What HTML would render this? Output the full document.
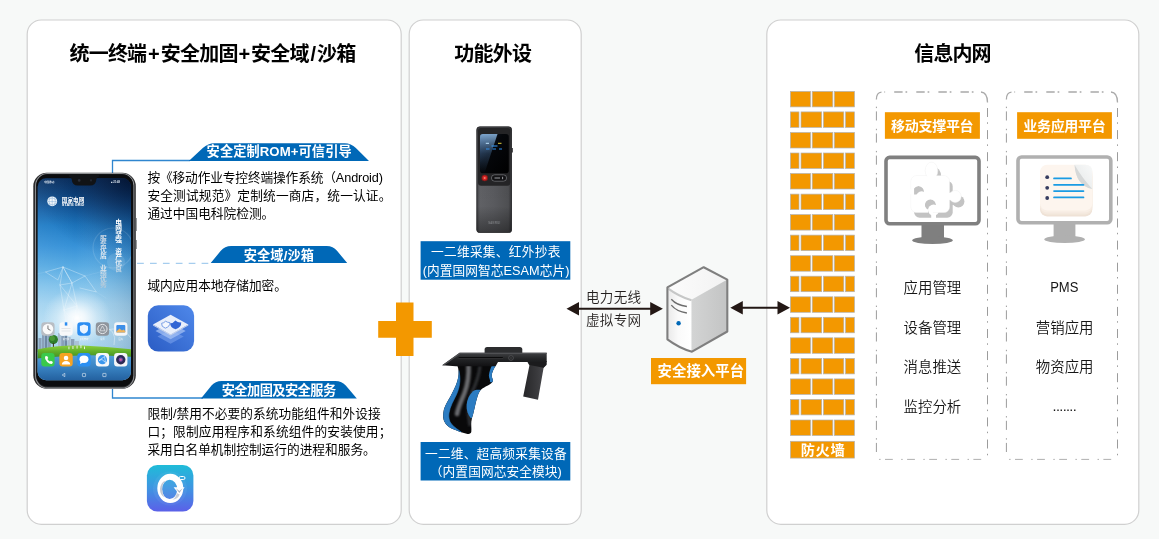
<!DOCTYPE html>
<html lang="zh-CN">
<head>
<meta charset="utf-8">
<title>统一终端+安全加固+安全域/沙箱</title>
<style>
html,body{margin:0;padding:0;background:#f7f9f8;}
body{width:1159px;height:539px;overflow:hidden;position:relative;font-family:"Liberation Sans","Noto Sans CJK SC",sans-serif;}
svg{position:absolute;left:0;top:0;display:block;will-change:transform;}
text{font-family:"Liberation Sans","Noto Sans CJK SC",sans-serif;}
.ttl{font-size:20px;font-weight:700;fill:#000;}
.tag{font-size:13.2px;font-weight:700;fill:#fff;}
.body{font-size:12.7px;font-weight:400;fill:#000;}
.lbl{font-size:12.7px;font-weight:400;fill:#fff;}
.olbl{font-weight:700;fill:#fff;}
.lst{font-size:14.4px;font-weight:350;fill:#161616;}
.net{font-size:13.5px;font-weight:350;fill:#231f1e;}
</style>
</head>
<body>
<svg width="1159" height="539" viewBox="0 0 1159 539">
<defs>
<!--DEFS-->
<linearGradient id="gIc1" x1="1" y1="0" x2="0" y2="1">
<stop offset="0" stop-color="#4f88ea"/><stop offset="1" stop-color="#2a5cc4"/>
</linearGradient>
<linearGradient id="gIc2" x1="0" y1="0" x2="0" y2="1">
<stop offset="0" stop-color="#1fbcd8"/><stop offset=".5" stop-color="#3f95e2"/><stop offset="1" stop-color="#5b60e8"/>
</linearGradient>
<linearGradient id="gScr" x1="0" y1="0" x2="0" y2="1">
<stop offset="0" stop-color="#0a2f5e"/><stop offset=".08" stop-color="#0e4580"/><stop offset=".16" stop-color="#1560a6"/>
<stop offset=".24" stop-color="#1f7cc6"/><stop offset=".34" stop-color="#3792d8"/><stop offset=".44" stop-color="#58abe3"/>
<stop offset=".53" stop-color="#80c2eb"/><stop offset=".62" stop-color="#a2d3f0"/><stop offset=".71" stop-color="#b4dcf3"/>
<stop offset=".82" stop-color="#a8d5f0"/><stop offset="1" stop-color="#8cc4ea"/>
</linearGradient>
<linearGradient id="gScrL" x1="0" y1="0" x2="1" y2="0">
<stop offset="0" stop-color="#fff" stop-opacity=".06"/><stop offset=".4" stop-color="#fff" stop-opacity="0"/><stop offset="1" stop-color="#03204a" stop-opacity=".16"/>
</linearGradient>
<radialGradient id="gScrD" gradientUnits="userSpaceOnUse" cx="136" cy="172" r="105" gradientTransform="translate(136 172) scale(1 .85) translate(-136 -172)">
<stop offset="0" stop-color="#010a22" stop-opacity=".85"/><stop offset=".4" stop-color="#031538" stop-opacity=".5"/><stop offset=".75" stop-color="#04204c" stop-opacity=".15"/><stop offset="1" stop-color="#04204c" stop-opacity="0"/>
</radialGradient>
<radialGradient id="gFlare"><stop offset="0" stop-color="#fff" stop-opacity="1"/><stop offset=".25" stop-color="#fff" stop-opacity=".8"/><stop offset=".6" stop-color="#fff" stop-opacity=".35"/><stop offset="1" stop-color="#fff" stop-opacity="0"/></radialGradient>
<linearGradient id="gWater" x1="0" y1="0" x2="0" y2="1">
<stop offset="0" stop-color="#5aa6dc"/><stop offset=".45" stop-color="#3b86c6"/><stop offset="1" stop-color="#1f5a98"/>
</linearGradient>
<linearGradient id="gDev" x1="0" y1="0" x2="1" y2="0">
<stop offset="0" stop-color="#3e3e41"/><stop offset=".1" stop-color="#606165"/><stop offset=".5" stop-color="#595a5e"/><stop offset=".9" stop-color="#4e4f52"/><stop offset="1" stop-color="#303033"/>
</linearGradient>
<linearGradient id="gDevV" x1="0" y1="0" x2="0" y2="1">
<stop offset="0" stop-color="#000" stop-opacity=".25"/><stop offset=".08" stop-color="#000" stop-opacity=".05"/><stop offset=".75" stop-color="#000" stop-opacity="0"/><stop offset="1" stop-color="#000" stop-opacity=".38"/>
</linearGradient>
<linearGradient id="gDevScr" x1="0" y1="0" x2="1" y2="1">
<stop offset="0" stop-color="#1b2a40"/><stop offset=".4" stop-color="#05070b"/><stop offset="1" stop-color="#000"/>
</linearGradient>
<linearGradient id="gDevGl" x1="0" y1="0" x2="0" y2="1">
<stop offset="0" stop-color="#9fd0ff" stop-opacity=".75"/><stop offset=".5" stop-color="#5a8ec8" stop-opacity=".3"/><stop offset="1" stop-color="#5a8ec8" stop-opacity="0"/>
</linearGradient>
<linearGradient id="gFlap" x1="0" y1="0" x2="1" y2="0">
<stop offset="0" stop-color="#262628"/><stop offset=".6" stop-color="#3a3a3d"/><stop offset="1" stop-color="#4c4c50"/>
</linearGradient>
<linearGradient id="gGrip" gradientUnits="userSpaceOnUse" x1="452" y1="395" x2="484" y2="403">
<stop offset="0" stop-color="#1c1c1e"/><stop offset=".18" stop-color="#4a4b4e"/><stop offset=".34" stop-color="#0c0c0d"/><stop offset=".6" stop-color="#050505"/><stop offset=".85" stop-color="#1f2022"/><stop offset="1" stop-color="#0c0c0d"/>
</linearGradient>
<linearGradient id="gBar" x1="0" y1="0" x2="0" y2="1">
<stop offset="0" stop-color="#3f4043"/><stop offset=".45" stop-color="#242527"/><stop offset="1" stop-color="#111113"/>
</linearGradient>
<linearGradient id="gSrvT" x1="0" y1="0" x2="1" y2="0"><stop offset="0" stop-color="#fcfcfc"/><stop offset="1" stop-color="#f2f2f2"/></linearGradient>
<linearGradient id="gSrvL" x1="0" y1="0" x2="1" y2="0"><stop offset="0" stop-color="#e9e9e9"/><stop offset=".45" stop-color="#fafafa"/><stop offset="1" stop-color="#fff"/></linearGradient>
<linearGradient id="gSrvR" x1="0" y1="0" x2="1" y2="0"><stop offset="0" stop-color="#d3d4d4"/><stop offset="1" stop-color="#c3c4c4"/></linearGradient>
<linearGradient id="gCurl" x1="0" y1="1" x2="1" y2="0"><stop offset="0" stop-color="#d9dbdb"/><stop offset=".5" stop-color="#eef0f0"/><stop offset="1" stop-color="#f8f9f9"/></linearGradient>
<linearGradient id="gSlog" gradientUnits="userSpaceOnUse" x1="0" y1="218" x2="0" y2="272"><stop offset="0" stop-color="#fff"/><stop offset=".7" stop-color="#fff"/><stop offset="1" stop-color="#d3dde6" stop-opacity=".75"/></linearGradient>
<linearGradient id="gSlog2" gradientUnits="userSpaceOnUse" x1="0" y1="234" x2="0" y2="290"><stop offset="0" stop-color="#c6d3e0"/><stop offset=".5" stop-color="#e6eef5"/><stop offset="1" stop-color="#b8c6d2" stop-opacity=".8"/></linearGradient>
<linearGradient id="gGrass" x1="0" y1="0" x2="0" y2="1"><stop offset="0" stop-color="#8ccf3c"/><stop offset=".45" stop-color="#62b02a"/><stop offset="1" stop-color="#3f8a22"/></linearGradient>
<filter id="fBlur" x="-50%" y="-20%" width="200%" height="140%"><feGaussianBlur stdDeviation="1.300"/></filter>
<filter id="fBlur2" x="-10%" y="-10%" width="120%" height="120%"><feGaussianBlur stdDeviation=".350"/></filter>

</defs>

<!-- panels -->
<g fill="#fff" stroke="#d0d0d0" stroke-width="1.200">
<rect x="27.2" y="20" width="374" height="504.300" rx="14" ry="14"/>
<rect x="409.200" y="20" width="172" height="504.300" rx="14" ry="14"/>
<rect x="766.800" y="20" width="372" height="504.300" rx="14" ry="14"/>
</g>

<!-- titles -->
<text class="ttl" y="60.600" x="69.500 88.700 107.900 127.100 148 160.800 180 199.200 218.400 238.400 250.900 270.200 289.500 310.400 316.900 336.200">统一终端+安全加固+安全域/沙箱</text>
<text class="ttl" y="60.600" x="454.300 473.500 492.700 511.900">功能外设</text>
<text class="ttl" y="60.600" x="914.300 933.400 952.500 971.600">信息内网</text>

<!--PANEL1-->
<!-- connector lines -->
<g fill="none" stroke="#2f86cf" stroke-width="1.300" stroke-linejoin="miter">
<path d="M112.500 173 V160.500 H190"/>
<path d="M112.500 389 V398 H203"/>
</g>
<path d="M137.100 263.400 H212" fill="none" stroke="#a6cdee" stroke-width="1.200" stroke-dasharray="6.700 6.200"/>

<!-- blue tags -->
<g fill="#0068b7">
<path d="M188.8 161.1 L202.8 148.0 Q208.0 143.2 214.5 143.2 H344.6 Q351.1 143.2 355.9 148.0 L369.0 161.1 Z"/>
<path d="M210.700 263 L220.800 250.800 Q224.700 246.100 231.200 246.100 H326.700 Q333.200 246.100 337 250.800 L347.200 263 Z"/>
<path d="M201.0 398.6 L211.3 385.7 Q215.2 380.9 221.7 380.9 H335.4 Q341.9 380.9 346.0 385.7 L356.8 398.6 Z"/>
</g>
<text class="tag" x="206.600" y="155.500" textLength="145" lengthAdjust="spacing">安全定制ROM+可信引导</text>
<text class="tag" x="243.700" y="259.500" textLength="70.300" lengthAdjust="spacing">安全域/沙箱</text>
<text class="tag" x="221.700" y="395.400" textLength="114.400" lengthAdjust="spacing">安全加固及安全服务</text>

<!-- body text -->
<text class="body" x="147.400" y="181.900" textLength="235.6" lengthAdjust="spacing">按《移动作业专控终端操作系统（Android)</text>
<text class="body" x="147.400" y="199.800" textLength="244" lengthAdjust="spacing">安全测试规范》定制统一商店，统一认证。</text>
<text class="body" x="147.400" y="217.800">通过中国电科院检测。</text>
<text class="body" x="147.400" y="290">域内应用本地存储加密。</text>
<text class="body" x="147.400" y="417.600" textLength="233.2" lengthAdjust="spacing">限制/禁用不必要的系统功能组件和外设接</text>
<text class="body" x="147.400" y="435.700" textLength="244" lengthAdjust="spacing">口；限制应用程序和系统组件的安装使用；</text>
<text class="body" x="147.400" y="453.700">采用白名单机制控制运行的进程和服务。</text>

<!-- sandbox icon -->
<g>
<rect x="147.8" y="305.3" width="46.3" height="46.3" rx="10.5" fill="url(#gIc1)"/>
<path d="M170.6 339 L158.5 332.3 L170.6 343.7 L182.7 332.3 Z" fill="#fff" fill-opacity="0"/>
<path d="M157.5 336.5 L170.6 329.5 L183.7 336.5 L170.6 343.8 Z" fill="#7fa6ee" fill-opacity=".55"/>
<path d="M155.5 331 L170.6 322.8 L185.7 331 L170.6 339.3 Z" fill="#a9c4f5" fill-opacity=".7"/>
<path d="M153 324.6 L170.6 314.8 L188.3 324.6 L170.6 334.5 Z" fill="#e9effb"/>
<path d="M153 324.6 L170.6 334.5 L188.3 324.6 L188.3 325.6 L170.6 335.6 L153 325.6 Z" fill="#c9d3ea"/>
<path d="M161.600 323.300 Q163.800 323.100 165.600 321.200 Q167.600 322.700 169.900 322.500 Q170.300 326.400 165.300 328.200 Q161 326.700 161.600 323.300 Z" fill="#f4f7fd" stroke="#7a9fe6" stroke-width="1"/>
<path d="M170.200 323.200 Q173 323.300 175.400 320.400 Q178.200 322.900 181.200 322.300 Q181.600 327.300 175.600 329.200 Q170 327.600 170.200 323.200 Z" fill="#3366d4"/>
</g>

<!-- reinforce icon -->
<g>
<rect x="146.9" y="465" width="46.5" height="46.5" rx="10.5" fill="url(#gIc2)"/>
<circle cx="170" cy="488.500" r="17" fill="#fff" fill-opacity=".05"/>
<path d="M157.300 488.350 A13 14.650 0 1 0 183.300 488.350 A13 14.650 0 1 0 157.300 488.350 Z M162.100 489.350 A7.550 9.650 0 1 1 177.200 489.350 A7.550 9.650 0 1 1 162.100 489.350 Z" fill="#fff" fill-rule="evenodd"/>
<path d="M162.100 489.350 A7.550 9.650 0 0 1 166 480.700 Q160.800 481.500 160 489 Q160 495.500 164.600 497.300 Q162.100 494 162.100 489.350 Z" fill="#c2c8d4"/>
<path d="M176.800 493 Q176 497.500 172.500 499.600 Q177.500 499.500 179.800 494.500 Z" fill="#c2c8d4" fill-opacity=".9"/>
<path d="M173.600 487.300 H184.600 L179.400 494.600 Z" fill="#fff"/>
<path d="M175.800 488.200 L179.400 493 L182.600 488.200 L179.400 491 Z" fill="#8f97a8" fill-opacity=".75"/>
<rect x="179" y="476.500" width="6" height="3" rx="1.500" fill="none" stroke="#fff" stroke-width="1"/>
</g>
<!-- phone -->
<g>
<rect x="33.300" y="172.800" width="102.500" height="216" rx="13.500" fill="#2b2c2e"/>
<rect x="35.600" y="173.500" width="98.200" height="214.600" rx="12" fill="none" stroke="#8e9093" stroke-width="1.100"/>
<rect x="36.300" y="174.200" width="96.900" height="212.400" rx="11.300" fill="#0b0c0e"/>
<clipPath id="scr"><rect x="37.600" y="178.200" width="93.400" height="202" rx="8.500"/></clipPath>
<g clip-path="url(#scr)">
<rect x="37" y="176" width="96" height="206" fill="url(#gScr)"/>
<rect x="37" y="176" width="96" height="206" fill="url(#gScrL)"/>
<rect x="37" y="176" width="96" height="206" fill="url(#gScrD)"/>
<!-- lens flare -->
<ellipse cx="77" cy="318" rx="34" ry="30" fill="url(#gFlare)"/>
<circle cx="113" cy="248" r="20" fill="none" stroke="#fff" stroke-opacity=".12" stroke-width="1.200"/>
<circle cx="116" cy="262" r="9" fill="#fff" fill-opacity=".1"/>
<!-- tower -->
<g fill="none" stroke="#f2f9fd" stroke-linecap="round" filter="url(#fBlur2)">
<g stroke-opacity=".34" stroke-width="1" stroke-dasharray=".7 .7">
<path d="M63 267 L45.500 272 L58 280 Z M63 267 L85 276 L72 283 Z M85 276 L96.400 292 L80 288"/>
<path d="M63 267 L60 285 L64 310 L69 336 M63 267 L72 283 L77 306 L85 336 M60 285 L72 283 M64 310 L77 306 M60 285 L77 306 M72 283 L64 310 M64 310 L85 336 M77 306 L69 336"/>
</g>
<path d="M45.500 272 L37 274 M96.400 292 L106 298 M85 276 L100 272" stroke-opacity=".18" stroke-width=".5"/>
</g>
<!-- skyline -->
<g fill="#8aa0b8">
<rect x="38.500" y="338" width="3" height="11"/><rect x="42" y="333" width="2.600" height="16"/><rect x="45" y="329.500" width="2.400" height="20" fill="#6f88a4"/><rect x="47.800" y="335" width="3" height="14"/>
<rect x="58" y="333" width="2.800" height="16" fill="#a9bccf"/><rect x="61.200" y="336" width="3" height="13"/><rect x="64.600" y="331.500" width="2.600" height="17" fill="#6f88a4"/>
<rect x="67.600" y="337" width="3" height="11" fill="#a9bccf"/><rect x="71" y="339" width="3.400" height="9"/><rect x="75" y="341" width="4" height="7" fill="#a9bccf" fill-opacity=".8"/>
</g>
<circle cx="53.400" cy="339.600" r="4.600" fill="#2f7d2a"/><circle cx="52.300" cy="338.300" r="2.600" fill="#4c9a36"/><rect x="52.900" y="343" width="1" height="5.500" fill="#3d3220"/>
<!-- grass + water -->
<rect x="37" y="352" width="96" height="31" fill="url(#gWater)"/>
<path d="M37 349.500 Q58 344.800 82 345.600 Q108 346.600 133 349.500 V357 Q100 354.500 80 355.500 Q55 356.500 37 358.500 Z" fill="url(#gGrass)"/>
<g fill="#f4f6f8"><rect x="68.500" y="346.500" width=".9" height="2.800"/><rect x="72.500" y="346" width=".9" height="3"/><rect x="76.600" y="345.600" width=".9" height="3"/><rect x="80.500" y="345" width=".9" height="3.200"/><rect x="84" y="346.500" width=".9" height="2.600"/></g>
<path d="M100 326 Q118 328 114 345 M104 330 Q124 326 131 338" fill="none" stroke="#fff" stroke-opacity=".55" stroke-width=".7"/>
<!-- app icons row 1 -->
<g>
<rect x="41.300" y="322.300" width="13.300" height="13.400" rx="3.200" fill="#b9bec4"/><circle cx="47.950" cy="329" r="5.300" fill="#fafafa"/><path d="M47.950 325.500 V329 L50.500 330.300" stroke="#444" stroke-width=".7" fill="none"/>
<rect x="59.400" y="322.300" width="13.300" height="13.400" rx="3.200" fill="#f7f8f9"/><rect x="64.800" y="322.300" width="2.500" height="3.300" fill="#2b8cf0"/><path d="M61.500 328.500 H70.500 M61.500 331 H70.500" stroke="#d5d8dc" stroke-width=".6"/>
<rect x="77.300" y="322.300" width="13.300" height="13.400" rx="3.200" fill="#2b8df2"/><path d="M83.950 324.600 L88 326 V329.500 Q88 332.300 83.950 333.800 Q79.900 332.300 79.900 329.500 V326 Z" fill="#eaf4ff"/>
<rect x="95.800" y="322.300" width="13.300" height="13.400" rx="3.200" fill="#8e949c"/><circle cx="102.450" cy="329" r="4.600" fill="none" stroke="#e8eaed" stroke-width="1"/><path d="M102.450 326 L105 330.800 H99.900 Z" fill="none" stroke="#e8eaed" stroke-width=".7"/>
<rect x="114.100" y="322.300" width="13.300" height="13.400" rx="3.200" fill="#f4f6f8"/><rect x="116.300" y="325" width="9" height="7.500" rx="1" fill="#3d8fe8"/><path d="M116.300 331.500 L119.500 328.500 L122 330.500 L123.500 329.500 L125.300 331 V332.500 H116.300 Z" fill="#f0b45a"/>
</g>
<g font-size="2.200" fill="#fff" fill-opacity=".85" text-anchor="middle">
<text x="66" y="340">备忘录</text><text x="84" y="340">手机管家</text><text x="102.500" y="340">设置</text><text x="120.700" y="340">图库</text>
</g>
<!-- app icons row 2 -->
<g>
<rect x="41.300" y="353" width="13.300" height="13.400" rx="3.200" fill="#3ac94b"/><path d="M45 356.500 q-.6 3 2.200 5.500 q2.600 2.500 5 1.800 l.7 -1.700 l-2 -1.300 l-1 .8 q-1.600 -.8 -2.500 -2.600 l.9 -.9 l-1.200 -2.200 z" fill="#fff"/>
<rect x="59.400" y="353" width="13.300" height="13.400" rx="3.200" fill="#f6a321"/><circle cx="66.050" cy="358" r="2.300" fill="#fff"/><path d="M61.800 364.500 q.4 -3.600 4.250 -3.600 q3.850 0 4.250 3.600 z" fill="#fff"/>
<rect x="77.300" y="353" width="13.300" height="13.400" rx="3.200" fill="#2a8ff2"/><ellipse cx="83.950" cy="359.300" rx="4.500" ry="3.700" fill="#fff"/><path d="M80.500 361.500 L80 364 L83 362.500 Z" fill="#fff"/>
<rect x="95.800" y="353" width="13.300" height="13.400" rx="3.200" fill="#f6f8fa"/><circle cx="102.450" cy="359.700" r="4.600" fill="#3a97ee"/><path d="M99 360.500 L104.500 356.500 L105.500 362.500 L102 359.500 Z" fill="none" stroke="#fff" stroke-width=".6"/>
<rect x="114.100" y="353" width="13.300" height="13.400" rx="3.200" fill="#f4f5f8"/><circle cx="120.750" cy="359.700" r="4.700" fill="#2c2a55"/><circle cx="120.750" cy="359.700" r="2.100" fill="#7a4fb0"/><circle cx="120.750" cy="359.700" r="1" fill="#e8608a"/>
</g>
<!-- nav bar -->
<g fill="none" stroke="#e6eef6" stroke-width=".6">
<path d="M64.800 373.300 L62.200 375 L64.800 376.700 Z"/><rect x="82.400" y="373.400" width="3.200" height="3.200" rx=".5"/><rect x="102.800" y="373.400" width="3.200" height="3.200" rx=".2"/>
</g>
<!-- status bar -->
<g font-size="2.600" fill="#dfe8f2" font-weight="700"><text x="44" y="183">中国移动</text><text x="111" y="183">■ 21:48</text></g>
<!-- logo -->
<circle cx="52.200" cy="201.300" r="4.900" fill="#f4f8fb"/>
<path d="M48.300 199.500 q3.900 -3 7.800 0 M47.600 201.600 h9.200 M48.300 203.500 q3.900 2.600 7.800 0 M52.200 196.600 v9.400 M50 197.300 q-2 4 0 8 M54.400 197.300 q2 4 0 8" fill="none" stroke="#6a9fd0" stroke-width=".4"/>
<text x="61.800" y="201.700" font-size="5.800" font-weight="700" fill="#fff" textLength="22.500" lengthAdjust="spacingAndGlyphs">国家电网</text>
<text x="61.800" y="205.800" font-size="3.400" font-weight="700" fill="#fff" textLength="22.500" lengthAdjust="spacingAndGlyphs">STATE GRID</text>
<!-- slogans -->
<g font-size="6px" font-weight="700" fill="#fff" text-anchor="middle">
<g transform="translate(118.700 0) scale(1.130 1) translate(-118.700 0)"><text x="118.7 118.7 118.7 118.7 118.7 118.7 118.7 118.7 118.7" y="224.4 230.2 236.0 241.8 247.6 253.5 259.3 265.1 270.9" fill="url(#gSlog)">电网坚强　资产优良</text></g>
<g transform="translate(103.400 0) scale(1.130 1) translate(-103.400 0)"><text x="103.4 103.4 103.4 103.4 103.4 103.4 103.4 103.4 103.4" y="240.5 246.3 252.2 258.0 263.9 269.7 275.5 281.4 287.2" fill="url(#gSlog2)">服务优质　业绩优秀</text></g>
</g>
</g>
<!-- notch -->
<path d="M69 175 H99 V176.800 Q96.500 177 96.300 179.500 Q96 185.600 90 185.600 H78 Q72 185.600 71.800 179.500 Q71.500 177 69 176.800 Z" fill="#111316"/>
<circle cx="79.200" cy="180.400" r="1.300" fill="#2a2f3a"/><circle cx="91" cy="180.400" r="1.100" fill="#242832"/>
<!-- side buttons -->
<rect x="135.600" y="218" width="1" height="13" fill="#55585c"/><rect x="135.600" y="240" width="1" height="9" fill="#55585c"/>
</g>

<!--PANEL2-->
<!-- plus sign -->
<path d="M396 302.400 H413.500 V321 H431.800 V337.800 H413.500 V356 H396 V337.800 H378.200 V321 H396 Z" fill="#f39800"/>

<!-- handheld reader -->
<g>
<rect x="476.500" y="126.600" width="35.400" height="106.200" rx="3.400" fill="url(#gDev)"/>
<rect x="476.500" y="126.600" width="35.400" height="106.200" rx="3.400" fill="url(#gDevV)"/>
<rect x="476.900" y="127" width="34.600" height="105.400" rx="3.100" fill="none" stroke="#2f2f31" stroke-width=".8"/>
<path d="M480.700 128 H507.700 Q510.400 128 510.400 130.700 V182.500 Q510.400 185.800 507.200 185.800 H481.200 Q478 185.800 478 182.500 V130.700 Q478 128 480.700 128 Z" fill="#242426"/>
<rect x="480" y="134" width="28.800" height="39.200" rx="2.800" fill="url(#gDevScr)"/>
<path d="M480 136.800 Q480 134 482.800 134 H497.500 L484.500 173.200 H482.800 Q480 173.200 480 170.400 Z" fill="url(#gDevGl)"/>
<g stroke-width="1" fill="none"><path d="M485.800 143.300 H489" stroke="#bfe4ff"/><path d="M498 143.300 H501.500" stroke="#e6d23c"/><path d="M491.500 146 H497.500" stroke="#3aa0ff"/><path d="M486 149 H489.500 M492.500 149 H496 M499 149 H502" stroke="#2f90f0"/></g>
<circle cx="484.700" cy="178" r="3.300" fill="#7d1a1a"/><circle cx="484.700" cy="178" r="2.400" fill="#d42222"/><circle cx="484.700" cy="178" r="1" fill="#f08070"/>
<rect x="491.400" y="174.800" width="15.200" height="6.400" rx="3.200" fill="#121214" stroke="#8a8c90" stroke-width=".6"/>
<path d="M494.500 178 H500 M502.600 176.800 V179.200" stroke="#d5d8dc" stroke-width=".7"/>
<rect x="511.700" y="148" width="1.100" height="4.500" fill="#2a2a2c"/>
<text x="494.200" y="224.300" font-size="2.600" fill="#7e8084" text-anchor="middle" font-weight="700" textLength="12" lengthAdjust="spacing">SANRUI</text>
</g>

<rect x="420.600" y="241.200" width="149.700" height="38.500" fill="#0068b7"/>
<text class="lbl" x="431" y="256.300" textLength="129.400" lengthAdjust="spacing">一二维采集、红外抄表</text>
<text class="lbl" x="422.800" y="274.500" textLength="146.600" lengthAdjust="spacing">(内置国网智芯ESAM芯片)</text>

<!-- trigger handle reader -->
<g>
<path d="M484.600 353 V349.500 Q484.600 347 487.100 347 H519.800 Q522.300 347 522.300 349.500 V353 Z" fill="#2c2d2f"/>
<path d="M527 361 H546.500 V365 L543.600 367.800 L538 399.700 L523.200 396.600 L529.400 365.500 Z" fill="url(#gFlap)"/>
<path d="M527 361 H546.500 V364.500 L543.600 367.800 L529.700 365 Z" fill="#1b1b1d"/>
<!-- handle -->
<path id="hsil" d="M457.300 365.500 C458.800 369 458.900 373 458.300 377 C457.300 383 454.500 388.500 451.800 393.800 C448.500 400.300 444.300 405.500 443.400 412.400 C442.900 416 443.200 419 444.300 421.600 C446 425.500 449 427.500 452.700 429 C457 430.800 462 432.800 466.600 433.700 C469.200 434.200 471 433.800 471.300 431.800 C471.700 428.500 470.900 425 471.300 421.600 C471.600 419 472.400 416.600 473.100 414.200 C474.800 408 475.800 401.500 477.700 395.700 C478.500 393.200 479.600 390.800 481.500 389.200 C484.800 386.400 490 385.200 492.600 381.700 C493.800 380 491.500 377.800 491.700 375.300 C492 372 493.800 369 495.400 366 Z" fill="#09090a"/>
<clipPath id="hclip"><use href="#hsil"/></clipPath>
<g clip-path="url(#hclip)">
<path d="M468.500 364 C469 374 468 384 464.500 393 C462 399.500 458.500 406 457 414" fill="none" stroke="#7b7c80" stroke-width="4.600" stroke-linecap="round" filter="url(#fBlur)" stroke-opacity=".85"/>
<path d="M480 366 C479 376 476 384 472 392 C468.500 400 467.500 412 470 426" fill="none" stroke="#3a3b3e" stroke-width="3" filter="url(#fBlur)" stroke-opacity=".8"/>
<path d="M458.800 370.500 C458.900 377 455 387 451.800 393.800 C448.500 400.300 444.300 405.500 443.400 412.400 C442.900 416 443.200 419 444.300 421.600 C446 425.500 449 427.500 452.700 429 C455.500 430.200 458.500 431.300 461.500 432.300 C458 429.500 454.500 427.500 451.700 424.300 C449 421.300 448.400 417 449 413 C450 406.500 453.700 400.500 456.500 394.500 C459.200 388.500 461.300 380 458.800 370.500 Z" fill="#2b7cc2" stroke="#2b7cc2" stroke-width=".6"/>
<path d="M473 391.300 C469.400 394.500 467 399.500 466.600 405 C466.300 410 467.800 414.500 471 418.500 L474 416 L480 398 L481 390 C478 389.600 475 389.800 473 391.300 Z" fill="#2b7cc2"/>
<path d="M492.200 365 C490.400 368.500 489.200 372 488.900 375.300 C488.700 377.800 490.800 380 489.800 381.900 L495 383 L497 365 Z" fill="#2b7cc2"/>
</g>
<!-- top bar -->
<path d="M442.200 365.200 L459.600 352.800 H546.700 V362 H498 L495.600 366.200 H456 Z" fill="url(#gBar)"/>
<path d="M442.200 365.200 L459.600 352.800 H546.700 V354 H460.200 L444.500 365.200 Z" fill="#505154"/>
<rect x="458.500" y="357" width="44.500" height="1.700" rx=".85" fill="#0b0b0c"/>
<rect x="458.500" y="358.400" width="44.500" height=".5" fill="#4a4b4d"/>
<circle cx="511" cy="358" r="2.400" fill="#252527" stroke="#606164" stroke-width=".6"/>
<circle cx="511" cy="358" r=".9" fill="#3b3c3e"/>
</g>

<rect x="420.600" y="442" width="149.700" height="38.500" fill="#0068b7"/>
<text class="lbl" x="425" y="458.100" textLength="141.600" lengthAdjust="spacing">一二维、超高频采集设备</text>
<text class="lbl" x="429.800" y="475.700" textLength="132" lengthAdjust="spacing">（内置国网芯安全模块)</text>

<!--MIDDLE-->
<!-- arrows -->
<g fill="#231815" stroke="none">
<path d="M566.500 308.800 L579 302.100 V307.800 H650.200 V302.100 L662.900 308.800 L650.200 315.500 V309.800 H579 V315.500 Z"/>
<path d="M730.300 307.800 L742.800 301.100 V306.800 H777.500 V301.100 L790 307.800 L777.500 314.500 V308.800 H742.800 V314.500 Z"/>
</g>
<text class="net" x="586" y="302" textLength="55" lengthAdjust="spacing">电力无线</text>
<text class="net" x="586" y="325" textLength="55" lengthAdjust="spacing">虚拟专网</text>

<!-- server -->
<g stroke-linejoin="round">
<path d="M667.400 287.400 L703.700 267.200 L727.300 279.600 L691.500 299.800 Z" fill="url(#gSrvT)"/>
<path d="M667.400 287.400 Q678 293.500 691.500 299.800 V351.500 Q679 347.500 667.400 339.300 Z" fill="url(#gSrvL)"/>
<path d="M691.500 299.800 L727.300 279.600 V331.500 L691.500 351.500 Z" fill="url(#gSrvR)"/>
<path d="M668.300 288.600 Q678 296 691.500 300.300" fill="none" stroke="#c6c7c7" stroke-width="2"/>
<path d="M667.400 287.400 L703.700 267.200 L727.300 279.600 V331.500 L692 351.700 Q679 348 667.400 339.300 Z" fill="none" stroke="#7f7f7f" stroke-width="2.100"/>
<path d="M671.300 299.300 Q676.500 305.300 686.900 306.500 M671.300 305.200 Q676.500 311.600 686.900 313" fill="none" stroke="#6c6c6c" stroke-width="1.300"/>
<circle cx="678.600" cy="323.300" r="2.200" fill="#0068b7"/>
</g>
<rect x="651" y="358" width="95.100" height="26.200" fill="#f39800"/>
<text class="olbl" x="657.500" y="376.200" font-size="14.400" textLength="86.600" lengthAdjust="spacing">安全接入平台</text>

<!--PANEL3-->
<!-- firewall -->
<g fill="#f39800" stroke="#b3b3b3" stroke-width=".7">
<rect x="790.4" y="91.4" width="20.2" height="15.5"/>
<rect x="812.2" y="91.4" width="20.6" height="15.5"/>
<rect x="834.3" y="91.4" width="20.2" height="15.5"/>
<rect x="790.4" y="111.9" width="8.6" height="15.5"/>
<rect x="801.0" y="111.9" width="20.7" height="15.5"/>
<rect x="823.4" y="111.9" width="20.4" height="15.5"/>
<rect x="845.5" y="111.9" width="8.9" height="15.5"/>
<rect x="790.4" y="132.5" width="20.2" height="15.5"/>
<rect x="812.2" y="132.5" width="20.6" height="15.5"/>
<rect x="834.3" y="132.5" width="20.2" height="15.5"/>
<rect x="790.4" y="153.0" width="8.6" height="15.5"/>
<rect x="801.0" y="153.0" width="20.7" height="15.5"/>
<rect x="823.4" y="153.0" width="20.4" height="15.5"/>
<rect x="845.5" y="153.0" width="8.9" height="15.5"/>
<rect x="790.4" y="173.5" width="20.2" height="15.5"/>
<rect x="812.2" y="173.5" width="20.6" height="15.5"/>
<rect x="834.3" y="173.5" width="20.2" height="15.5"/>
<rect x="790.4" y="194.1" width="8.6" height="15.5"/>
<rect x="801.0" y="194.1" width="20.7" height="15.5"/>
<rect x="823.4" y="194.1" width="20.4" height="15.5"/>
<rect x="845.5" y="194.1" width="8.9" height="15.5"/>
<rect x="790.4" y="214.6" width="20.2" height="15.5"/>
<rect x="812.2" y="214.6" width="20.6" height="15.5"/>
<rect x="834.3" y="214.6" width="20.2" height="15.5"/>
<rect x="790.4" y="235.1" width="8.6" height="15.5"/>
<rect x="801.0" y="235.1" width="20.7" height="15.5"/>
<rect x="823.4" y="235.1" width="20.4" height="15.5"/>
<rect x="845.5" y="235.1" width="8.9" height="15.5"/>
<rect x="790.4" y="255.7" width="20.2" height="15.5"/>
<rect x="812.2" y="255.7" width="20.6" height="15.5"/>
<rect x="834.3" y="255.7" width="20.2" height="15.5"/>
<rect x="790.4" y="276.2" width="8.6" height="15.5"/>
<rect x="801.0" y="276.2" width="20.7" height="15.5"/>
<rect x="823.4" y="276.2" width="20.4" height="15.5"/>
<rect x="845.5" y="276.2" width="8.9" height="15.5"/>
<rect x="790.4" y="296.8" width="20.2" height="15.5"/>
<rect x="812.2" y="296.8" width="20.6" height="15.5"/>
<rect x="834.3" y="296.8" width="20.2" height="15.5"/>
<rect x="790.4" y="317.3" width="8.6" height="15.5"/>
<rect x="801.0" y="317.3" width="20.7" height="15.5"/>
<rect x="823.4" y="317.3" width="20.4" height="15.5"/>
<rect x="845.5" y="317.3" width="8.9" height="15.5"/>
<rect x="790.4" y="337.8" width="20.2" height="15.5"/>
<rect x="812.2" y="337.8" width="20.6" height="15.5"/>
<rect x="834.3" y="337.8" width="20.2" height="15.5"/>
<rect x="790.4" y="358.4" width="8.6" height="15.5"/>
<rect x="801.0" y="358.4" width="20.7" height="15.5"/>
<rect x="823.4" y="358.4" width="20.4" height="15.5"/>
<rect x="845.5" y="358.4" width="8.9" height="15.5"/>
<rect x="790.4" y="378.9" width="20.2" height="15.5"/>
<rect x="812.2" y="378.9" width="20.6" height="15.5"/>
<rect x="834.3" y="378.9" width="20.2" height="15.5"/>
<rect x="790.4" y="399.4" width="8.6" height="15.5"/>
<rect x="801.0" y="399.4" width="20.7" height="15.5"/>
<rect x="823.4" y="399.4" width="20.4" height="15.5"/>
<rect x="845.5" y="399.4" width="8.9" height="15.5"/>
<rect x="790.4" y="420.0" width="20.2" height="15.5"/>
<rect x="812.2" y="420.0" width="20.6" height="15.5"/>
<rect x="834.3" y="420.0" width="20.2" height="15.5"/>
<rect x="790.400" y="441.300" width="64.100" height="16.800"/>
</g>
<text class="olbl" x="800.800" y="455.200" font-size="14.200" textLength="43.800" lengthAdjust="spacing">防火墙</text>

<!-- dashed boxes -->
<g fill="none">
<path d="M884.4 92.0 H977.5" stroke="#a9a9a9" stroke-width="1.500" stroke-dasharray="8.400 2.900 1.700 9.100" stroke-dashoffset="12.3"/>
<path d="M876.400 99.500 Q876.400 92.400 881.500 92.100" stroke="#a9a9a9" stroke-width="1.300"/>
<path d="M981.0 92.0 Q987.5 92.5 987.5 102.5" stroke="#a9a9a9" stroke-width="1.300"/>
<path d="M987.5 104.0 V457.4" stroke="#9c9c9c" stroke-width="1" stroke-dasharray="9 5.300 1.500 6.300" stroke-dashoffset="18.1"/>
<path d="M984.5 459.4 H878.4" stroke="#a6a6a6" stroke-width=".900" stroke-dasharray="7.800 4.400 1.500 8.400" stroke-dashoffset="18.8"/>
<path d="M876.4 456.4 V102.0" stroke="#9c9c9c" stroke-width="1" stroke-dasharray="9.100 3.300 1.400 8.300" stroke-dashoffset="17.7"/>
<path d="M1014.4 92.0 H1107.5" stroke="#a9a9a9" stroke-width="1.500" stroke-dasharray="8.400 2.900 1.700 9.100" stroke-dashoffset="12.3"/>
<path d="M1006.400 99.500 Q1006.400 92.400 1011.500 92.100" stroke="#a9a9a9" stroke-width="1.300"/>
<path d="M1111.0 92.0 Q1117.5 92.5 1117.5 102.5" stroke="#a9a9a9" stroke-width="1.300"/>
<path d="M1117.5 104.0 V457.4" stroke="#9c9c9c" stroke-width="1" stroke-dasharray="9 5.300 1.500 6.300" stroke-dashoffset="18.1"/>
<path d="M1114.5 459.4 H1008.4" stroke="#a6a6a6" stroke-width=".900" stroke-dasharray="7.800 4.400 1.500 8.400" stroke-dashoffset="18.8"/>
<path d="M1006.4 456.4 V102.0" stroke="#9c9c9c" stroke-width="1" stroke-dasharray="9.100 3.300 1.400 8.300" stroke-dashoffset="17.7"/>
</g>

<!-- orange labels -->
<rect x="884.900" y="112.200" width="95" height="26.600" fill="#f39800"/>
<rect x="1017.100" y="112.200" width="94.800" height="26.600" fill="#f39800"/>
<text class="olbl" x="891" y="130.500" font-size="14" textLength="82.600" lengthAdjust="spacing">移动支撑平台</text>
<text class="olbl" x="1023.200" y="130.500" font-size="14" textLength="82.600" lengthAdjust="spacing">业务应用平台</text>

<!-- monitor 1 -->
<g>
<rect x="921.500" y="224" width="22.500" height="16.500" fill="#7f7f7f"/>
<ellipse cx="932.500" cy="240.300" rx="20.400" ry="3.700" fill="#7f7f7f"/>
<rect x="886" y="157.400" width="93" height="66.400" rx="3.600" fill="#fff" stroke="#808080" stroke-width="3.600"/>
<mask id="pzm" maskUnits="userSpaceOnUse" x="-5" y="-15" width="70" height="70">
<rect x="-5" y="-15" width="70" height="70" fill="#fff"/>
<circle cx="7.600" cy="16" r="5.600" fill="#000"/><rect x="-1" y="13.600" width="5" height="4.800" fill="#000"/>
<circle cx="19.500" cy="29.200" r="5.600" fill="#000"/><rect x="17.100" y="32" width="4.800" height="6" fill="#000"/>
</mask>
<g transform="translate(910.900 175.700)">
<g transform="translate(3.200 5.200)" fill="#c3c3c3" mask="url(#pzm)">
<rect x="0" y="0" width="38.600" height="36.800" rx="5.500"/><ellipse cx="20.600" cy="-5" rx="6.300" ry="8.600"/><rect x="17.500" y="-1" width="7" height="3"/><circle cx="44.300" cy="20.700" r="6"/><rect x="37" y="17.200" width="4" height="7"/>
</g>
<g fill="#fff" stroke="#f1f1f1" stroke-width=".5" mask="url(#pzm)">
<rect x="0" y="0" width="38.600" height="36.800" rx="5.500"/><ellipse cx="20.600" cy="-5" rx="6.300" ry="8.600"/><circle cx="44.300" cy="20.700" r="6"/>
</g>
<g fill="#fff" mask="url(#pzm)"><rect x=".5" y=".5" width="37.600" height="35.800" rx="5"/><rect x="17.500" y="-1" width="7" height="3"/><rect x="37" y="17.200" width="4" height="7"/></g>
</g>
</g>

<!-- monitor 2 -->
<g>
<rect x="1053.600" y="223" width="21.800" height="16.500" fill="#b0b0b0"/>
<ellipse cx="1064.600" cy="239.300" rx="20.400" ry="3.700" fill="#b0b0b0"/>
<rect x="1018" y="157" width="92.800" height="65.800" rx="3.600" fill="#fff" stroke="#b0b0b0" stroke-width="3.600"/>
<rect x="1040.100" y="170" width="52.200" height="46.400" rx="7" fill="#efe2d6"/>
<rect x="1040.100" y="168" width="52.200" height="46.400" rx="7" fill="#f4e9de"/>
<rect x="1040.100" y="166.200" width="52.200" height="46.400" rx="7" fill="#f8eee5"/>
<rect x="1040.100" y="164.800" width="52.200" height="45.600" rx="7" fill="#fdf5ee"/>
<path d="M1074.500 164.800 H1085.300 Q1092.300 164.800 1092.300 171.800 V189 Q1076 186 1074.500 164.800 Z" fill="url(#gCurl)"/>
<path d="M1074.500 164.800 Q1076 186 1092.300 189 Q1082 178 1074.500 164.800 Z" fill="#d6d8d8"/>
<g fill="#363c5e"><circle cx="1047.200" cy="177.200" r="1.900"/><circle cx="1047.200" cy="187.800" r="1.900"/><circle cx="1047.200" cy="198" r="1.900"/></g>
<g stroke="#1a9be3" stroke-width="1.700" stroke-linecap="round"><path d="M1054 178.400 H1071"/><path d="M1054 184.800 H1083.500"/><path d="M1054 191.100 H1083.500"/><path d="M1054 197.400 H1083.500"/></g>
</g>

<!-- lists -->
<g class="lst">
<text x="903.600" y="292.700" textLength="57.600" lengthAdjust="spacing">应用管理</text>
<text x="903.600" y="332.700" textLength="57.600" lengthAdjust="spacing">设备管理</text>
<text x="903.600" y="372.200" textLength="57.600" lengthAdjust="spacing">消息推送</text>
<text x="903.600" y="411.500" textLength="57.600" lengthAdjust="spacing">监控分析</text>
<text x="1050.200" y="292" font-size="15.400" textLength="28.200" lengthAdjust="spacingAndGlyphs">PMS</text>
<text x="1035.700" y="332.700" textLength="57.800" lengthAdjust="spacing">营销应用</text>
<text x="1035.700" y="372.200" textLength="57.800" lengthAdjust="spacing">物资应用</text>
<text x="1052.600" y="411.300" textLength="24.100" lengthAdjust="spacing">.......</text>
</g>

</svg>
</body>
</html>
